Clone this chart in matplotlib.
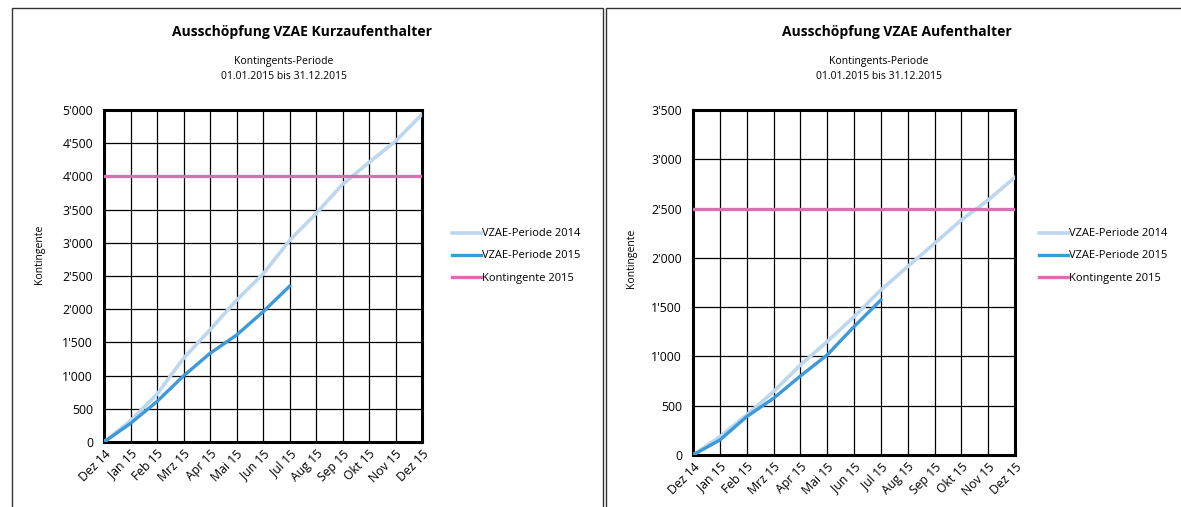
import matplotlib
matplotlib.use("Agg")
import matplotlib.pyplot as plt
from matplotlib.patches import Rectangle
from matplotlib.ticker import FuncFormatter

plt.rcParams['font.family'] = ['Open Sans', 'DejaVu Sans']

months = ["Dez 14", "Jan 15", "Feb 15", "Mrz 15", "Apr 15", "Mai 15", "Jun 15",
          "Jul 15", "Aug 15", "Sep 15", "Okt 15", "Nov 15", "Dez 15"]

# Kurzaufenthalter
kurz_2014 = [0, 320, 720, 1260, 1690, 2135, 2530, 3035, 3440, 3880, 4210, 4530, 4935]
kurz_2015 = [0, 280, 610, 995, 1335, 1610, 1960, 2345]
kurz_kontingent = 4000

# Aufenthalter
auf_2014 = [0, 186, 406, 643, 913, 1150, 1403, 1674, 1911, 2147, 2384, 2587, 2817]
auf_2015 = [0, 152, 389, 575, 801, 1015, 1302, 1572]
auf_kontingent = 2500

c14 = "#bdd7ee"
c15 = "#3d9ad9"
ck = "#d86fb0"


def fmt(v, pos):
    return "{:,}".format(int(v)).replace(",", "'")


def draw(ax, title, s14, s15, kont, ymax, cx):
    x = list(range(len(months)))
    ax.plot(x, s14, color=c14, lw=2.6, label="VZAE-Periode 2014", zorder=3)
    ax.plot(x[:len(s15)], s15, color=c15, lw=2.4, label="VZAE-Periode 2015", zorder=4)
    ax.plot([x[0], x[-1]], [kont, kont], color=ck, lw=2.4, label="Kontingente 2015", zorder=3)
    ax.set_xlim(0, len(months) - 1)
    ax.set_ylim(0, ymax)
    ax.set_xticks(x)
    ax.set_xticklabels(months, rotation=45, ha="right", rotation_mode="anchor", fontsize=8.8)
    ax.set_yticks(range(0, ymax + 1, 500))
    ax.yaxis.set_major_formatter(FuncFormatter(fmt))
    ax.tick_params(axis="y", labelsize=8.8, length=0, pad=8)
    ax.tick_params(axis="x", length=0, pad=4)
    ax.grid(True, color="black", lw=0.9)
    ax.set_axisbelow(True)
    for sp in ax.spines.values():
        sp.set_linewidth(2.2)
        sp.set_color("black")
    ax.set_ylabel("Kontingente", fontsize=7.5)
    fig.text(cx, 1 - 32 / 507, title, ha="center", va="center", fontsize=10, fontweight="bold")
    fig.text(cx - 18 / 1181, 1 - 69 / 507, "Kontingents-Periode\n01.01.2015 bis 31.12.2015",
             ha="center", va="center", fontsize=7.5, linespacing=1.5)


fig = plt.figure(figsize=(11.81, 5.07), dpi=100)

ax1 = fig.add_axes([104 / 1181, 1 - 442 / 507, 318 / 1181, 332 / 507])
draw(ax1, "Ausschöpfung VZAE Kurzaufenthalter", kurz_2014, kurz_2015, kurz_kontingent, 5000, 302 / 1181)
ax1.yaxis.set_label_coords(-0.186, (442 - 254) / 332)
ax1.legend(loc="center left", bbox_to_anchor=(442 / 1181, 1 - 256 / 507), bbox_transform=fig.transFigure,
           frameon=False, fontsize=8, handlelength=2.6, handletextpad=0.1, labelspacing=1.0)

ax2 = fig.add_axes([693 / 1181, 1 - 455 / 507, 322 / 1181, 345 / 507])
draw(ax2, "Ausschöpfung VZAE Aufenthalter", auf_2014, auf_2015, auf_kontingent, 3500, 897 / 1181)
ax2.yaxis.set_label_coords(-0.174, (455 - 258) / 345)
ax2.legend(loc="center left", bbox_to_anchor=(1029 / 1181, 1 - 256 / 507), bbox_transform=fig.transFigure,
           frameon=False, fontsize=8, handlelength=2.6, handletextpad=0.1, labelspacing=1.0)

# panel frames
fig.add_artist(Rectangle((12 / 1181, -0.05), 591 / 1181, 1.05 - 8 / 507, transform=fig.transFigure,
                         fill=False, ec="#333333", lw=1.0))
fig.add_artist(Rectangle((606 / 1181, -0.05), 600 / 1181, 1.05 - 8 / 507, transform=fig.transFigure,
                         fill=False, ec="#333333", lw=1.0))

fig.savefig("out.png", dpi=100)
